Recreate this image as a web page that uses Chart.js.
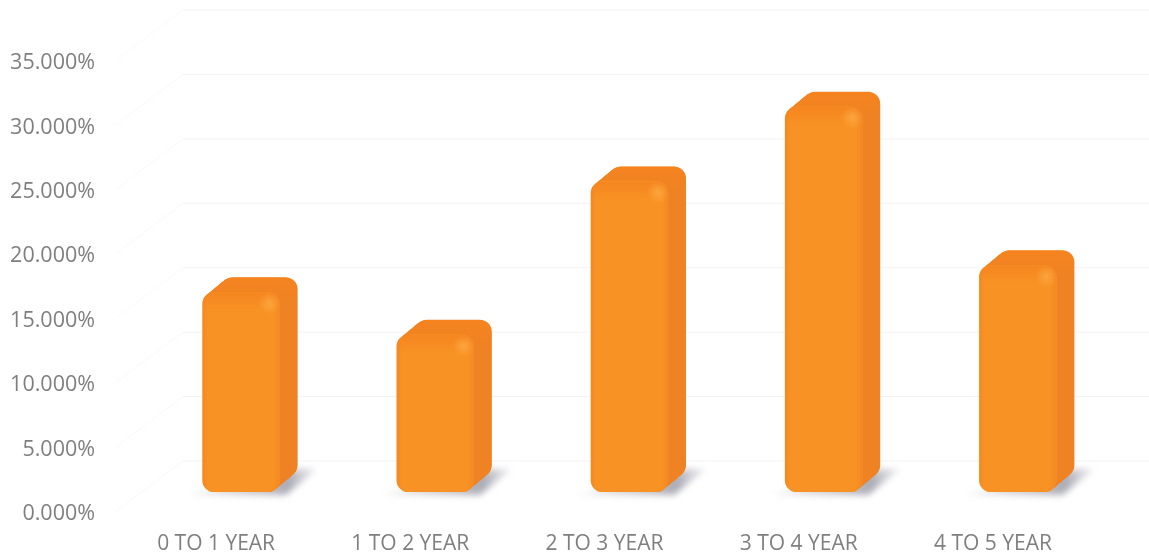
<!DOCTYPE html>
<html>
<head>
<meta charset="utf-8">
<title>Years chart</title>
<script src="https://cdn.jsdelivr.net/npm/chart.js@4"></script>
<style>
  html, body { margin: 0; padding: 0; background: #fff; }
  #wrap { width: 1149px; height: 556px; }
</style>
</head>
<body>
<div id="wrap"><canvas id="chart" width="1149" height="556"></canvas></div>
<script>
// values
const categories = ["0 TO 1 YEAR", "1 TO 2 YEAR", "2 TO 3 YEAR", "3 TO 4 YEAR", "4 TO 5 YEAR"];
const shares = [15.5, 12.2, 24.1, 29.9, 17.6];
const yTicks = [0, 5, 10, 15, 20, 25, 30, 35];

const DEPTH_X = 18, DEPTH_Y = 15, RADIUS = 12;

function roundedBar(ctx, x0, y0, x1, y1, r) {
  ctx.beginPath();
  ctx.roundRect(x0, y0, x1 - x0, y1 - y0, r);
}

// back wall lines and side wall diagonals, sit behind the bars
const wallPlugin = {
  id: "walls",
  beforeDatasetsDraw(chart) {
    const { ctx, scales } = chart;
    ctx.save();
    ctx.lineWidth = 1;
    yTicks.forEach(v => {
      const p = scales.y.getPixelForValue(v);
      ctx.strokeStyle = "#f3f3f3";
      ctx.beginPath();
      ctx.moveTo(183, p - 31);
      ctx.lineTo(1149, p - 31);
      ctx.stroke();
      ctx.strokeStyle = "#f9f9f9";
      ctx.beginPath();
      ctx.moveTo(115, p + 20);
      ctx.lineTo(183, p - 31);
      ctx.stroke();
    });
    ctx.restore();
  },
};

// extruded part of each bar and its floor shadow, built from the bar elements
const depthPlugin = {
  id: "depth",
  beforeDatasetsDraw(chart) {
    const { ctx } = chart;
    chart.getDatasetMeta(0).data.forEach(bar => {
      const x0 = bar.x - bar.width / 2, x1 = bar.x + bar.width / 2;
      const top = bar.y, bottom = bar.base;

      // shadow
      ctx.save();
      const sh = ctx.createLinearGradient(x0, bottom, x1 + DEPTH_X + 18, bottom - 20);
      sh.addColorStop(0, "rgba(150,150,160,0.2)");
      sh.addColorStop(0.75, "rgba(135,135,150,0.7)");
      sh.addColorStop(1, "rgba(160,160,175,0.2)");
      ctx.filter = "blur(3px)";
      ctx.fillStyle = sh;
      ctx.beginPath();
      ctx.moveTo(x0 - 14, bottom + 3);
      ctx.lineTo(x1 + 6, bottom + 3);
      ctx.lineTo(x1 + DEPTH_X + 20, bottom - DEPTH_Y - 8);
      ctx.lineTo(x1 + DEPTH_X, bottom - DEPTH_Y - 8);
      ctx.closePath();
      ctx.fill();
      ctx.restore();

      // sweep the rounded outline back to get top and side
      const steps = 36;
      for (let i = steps; i >= 1; i--) {
        const dx = DEPTH_X * i / steps, dy = DEPTH_Y * i / steps;
        const g = ctx.createLinearGradient(0, top - DEPTH_Y, 0, top + 10);
        g.addColorStop(0, "#f5841f");
        g.addColorStop(1, "#ef8223");
        ctx.fillStyle = g;
        roundedBar(ctx, x0 + dx, top - dy, x1 + dx, bottom - dy, RADIUS);
        ctx.fill();
      }
    });
  },
  afterDatasetsDraw(chart) {
    const { ctx } = chart;
    chart.getDatasetMeta(0).data.forEach(bar => {
      const x0 = bar.x - bar.width / 2, x1 = bar.x + bar.width / 2;
      const top = bar.y, bottom = bar.base;
      ctx.save();
      roundedBar(ctx, x0, top, x1, bottom, RADIUS);
      ctx.clip();
      // soft rims so the front face melts into the top and side
      const rim = ctx.createLinearGradient(x0, 0, x1, 0);
      rim.addColorStop(0, "rgba(235,120,25,0.4)");
      rim.addColorStop(0.06, "rgba(235,120,25,0)");
      rim.addColorStop(0.92, "rgba(239,130,35,0)");
      rim.addColorStop(1, "rgba(239,130,35,0.6)");
      ctx.fillStyle = rim;
      ctx.fillRect(x0, top, x1 - x0, bottom - top);
      const edge = ctx.createLinearGradient(0, top, 0, top + 18);
      edge.addColorStop(0, "rgba(245,132,31,0.9)");
      edge.addColorStop(1, "rgba(245,132,31,0)");
      ctx.fillStyle = edge;
      ctx.fillRect(x0, top, x1 - x0, 18);
      const glow = ctx.createRadialGradient(x1 - 10, top + 11, 0, x1 - 10, top + 11, 11);
      glow.addColorStop(0, "rgba(255,180,80,0.6)");
      glow.addColorStop(1, "rgba(255,180,80,0)");
      ctx.fillStyle = glow;
      ctx.fillRect(x1 - 24, top, 24, 26);
      ctx.restore();
    });
  },
};

new Chart(document.getElementById("chart"), {
  type: "bar",
  data: {
    labels: categories,
    datasets: [{
      data: shares,
      backgroundColor: "#f89224",
      borderWidth: 0,
      borderRadius: RADIUS,
      borderSkipped: false,
      barThickness: 77,
    }],
  },
  plugins: [wallPlugin, depthPlugin],
  options: {
    responsive: false,
    animation: false,
    layout: { padding: { left: 0, right: 34, top: 41, bottom: 0 } },
    plugins: { legend: { display: false }, tooltip: { enabled: false } },
    scales: {
      x: {
        grid: { display: false },
        border: { display: false },
        afterFit: s => { s.height = 64; s.paddingLeft = 0; s.paddingRight = 0; },
        ticks: {
          color: "#7f7f7f",
          font: { family: "Open Sans", size: 21 },
          labelOffset: -25,
          padding: 31,
          maxRotation: 0,
        },
      },
      y: {
        min: 0,
        max: 35,
        grid: { display: false },
        border: { display: false },
        afterFit: s => { s.width = 144; s.paddingTop = 0; s.paddingBottom = 0; },
        afterBuildTicks: s => { s.ticks = yTicks.map(v => ({ value: v })); },
        ticks: {
          color: "#7f7f7f",
          font: { family: "Open Sans", size: 21.5 },
          labelOffset: 22,
          padding: 41,
          callback: v => v.toFixed(3) + "%",
        },
      },
    },
  },
});
</script>
</body>
</html>
